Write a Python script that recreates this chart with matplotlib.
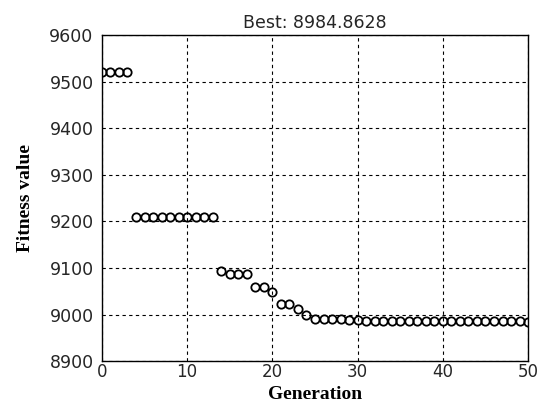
import matplotlib
matplotlib.use('Agg')
import matplotlib.pyplot as plt
import numpy as np

# best fitness per generation of the GA run
generations = list(range(51))
fitness = [9520, 9520, 9520, 9520,
           9210, 9210, 9210, 9210, 9210, 9210, 9210, 9210, 9210, 9210,
           9093, 9087, 9087, 9087, 9058, 9058, 9048, 9023, 9022, 9012, 9000,
           8990, 8990, 8990, 8990, 8989, 8988,
           8986, 8986, 8986, 8986, 8986, 8986, 8986, 8986, 8986, 8986,
           8985.5, 8985.5, 8985.5, 8985.5, 8985.5, 8985, 8985, 8985, 8985, 8984.8628]
best = 8984.8628

xticks = [0, 10, 20, 30, 40, 50]
yticks = [8900, 9000, 9100, 9200, 9300, 9400, 9500, 9600]

fig = plt.figure(figsize=(5.45, 4.03), dpi=100)
ax = fig.add_axes([0.187, 0.104, 0.782, 0.809])

ax.plot(generations, fitness, linestyle='none', marker='o', markersize=6,
        markerfacecolor='none', markeredgecolor='black', markeredgewidth=1.3)

ax.set_xlim(0, 50)
ax.set_ylim(8900, 9600)
ax.set_xticks(xticks)
ax.set_yticks(yticks)
ax.grid(True, color='black', linestyle=(0, (3, 3)), linewidth=0.8)
ax.tick_params(direction='in', length=0, labelsize=12.5, labelcolor='#262626')
ax.tick_params(axis='y', pad=6)
ax.tick_params(axis='x', pad=1.5, labelsize=12)
for lbl in ax.get_xticklabels() + ax.get_yticklabels():
    lbl.set_family('DejaVu Sans')
for s in ax.spines.values():
    s.set_linewidth(1.0)

ax.set_title('Best: %.4f' % best, fontsize=12.5, family='DejaVu Sans',
             color='#262626', pad=5)

# x label anchored by its bottom edge just above the figure edge
ax.set_xlabel('Generation', fontsize=14, fontweight='bold',
              family='Liberation Serif', va='bottom')
ax.xaxis.set_label_coords(0.5, -41.5 / 326)
ax.set_ylabel('Fitness value', fontsize=14, fontweight='bold',
              family='Liberation Serif')
ax.yaxis.set_label_coords(-0.16, 0.5)

fig.savefig('out.png', dpi=100)
